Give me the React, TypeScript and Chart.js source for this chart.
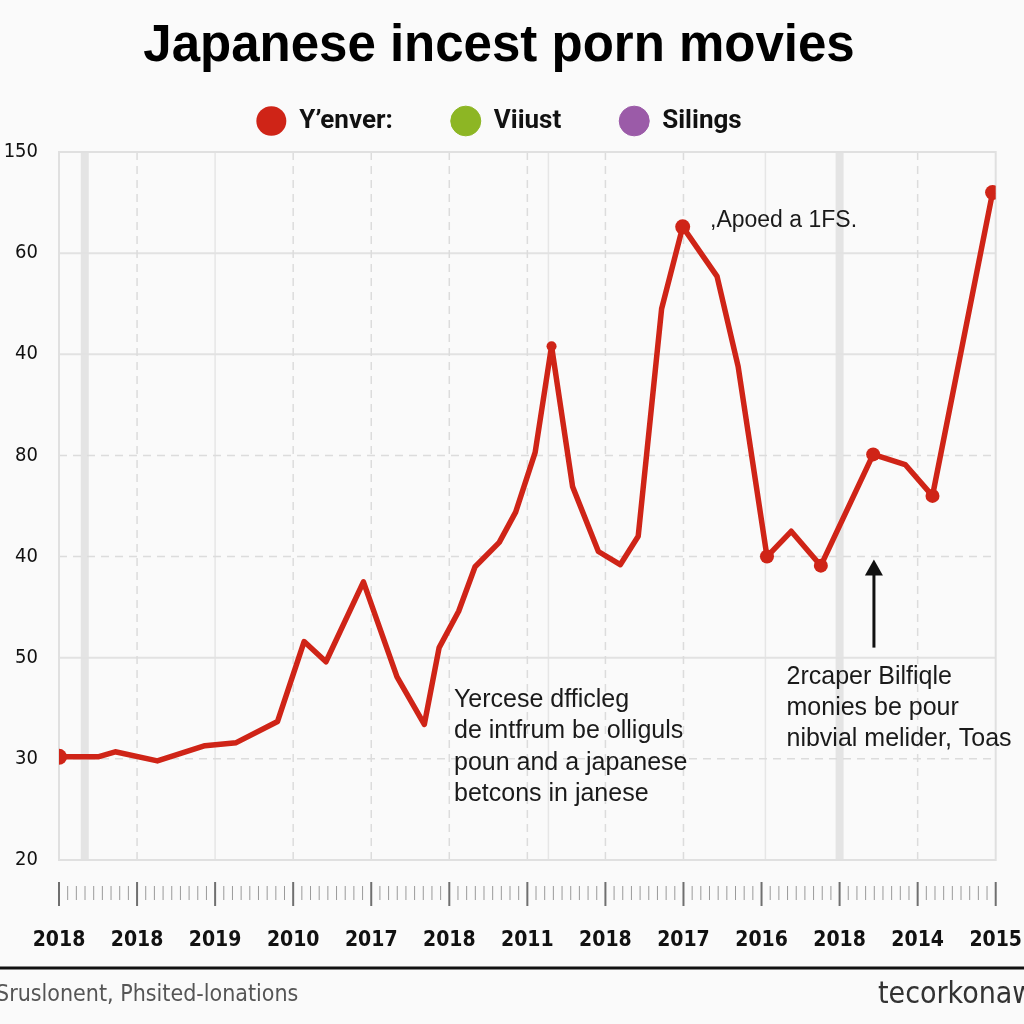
import React, { useEffect, useRef } from "react";
import { Chart, registerables, layouts } from "chart.js";

Chart.register(...registerables);

// ---------- data ----------
const chartTitle = "Japanese incest porn movies";
const seriesNames = ["Y’enver:", "Viiust", "Silings"];
const xTickLabels = ["2018", "2018", "2019", "2010", "2017", "2018", "2011", "2018", "2017", "2016", "2018", "2014", "2015"];
const yTickLabels = ["20", "30", "50", "40", "80", "40", "60", "150"];
// red series, positions in axis units (x: tick index, y: tick index)
const redX = [0, 0.5, 0.72, 1.26, 1.87, 2.27, 2.8, 3.14, 3.42, 3.9, 4.33, 4.68, 4.87, 5.12, 5.33, 5.64, 5.85, 6.1, 6.31, 6.58, 6.91, 7.19, 7.42, 7.72, 7.99, 8.43, 8.7, 9.07, 9.38, 9.76, 10.43, 10.84, 11.19, 11.96];
const redY = [1.02, 1.02, 1.07, 0.98, 1.13, 1.16, 1.37, 2.16, 1.96, 2.75, 1.81, 1.34, 2.1, 2.46, 2.9, 3.14, 3.44, 4.03, 5.08, 3.69, 3.05, 2.92, 3.2, 5.45, 6.26, 5.77, 4.88, 3.0, 3.25, 2.91, 4.01, 3.91, 3.6, 6.6];
const greenValues: number[] = [];
const purpleValues: number[] = [];
const footerLeft = "Sruslonent, Phsited-lonations";
const footerRight = "tecorkonaw";
const noteTop = ",Apoed a 1FS.";
const noteMid = ["Yercese dfficleg", "de intfrum be olliguls", "poun and a japanese", "betcons in janese"];
const noteRight = ["2rcaper Bilfiqle", "monies be pour", "nibvial melider, Toas"];

// ---------- styling / placement ----------
const COLORS = { red: "#cf2417", green: "#8db624", purple: "#9b5ba8", bg: "#fafafa" };
const markerSizes: Record<number, number> = { 0: 8, 18: 5, 24: 7.5, 27: 7, 29: 7, 30: 7, 32: 7, 33: 7.5 };
const vDashed = [1, 3, 4, 5, 6, 7, 8, 11];
const vSolid = [2, 6.27, 9.05];
const vBands = [0.33, 10.0];
const hSolid = [2, 5, 6];
const hDashed = [1, 3, 4];
const notePos = { top: [8.34, 6.32], mid: [5.06, 1.58], right: [9.32, 1.81], arrowX: 10.44, arrowFrom: 2.1, arrowTo: 2.97 };

const NARROW = "'DejaVu Sans Condensed', 'Liberation Sans', sans-serif";
const SANS = "'Liberation Sans', Arial, sans-serif";

const spacerPlugin = {
  id: "spacer",
  beforeInit(chart: any) {
    const box: any = {
      position: "top",
      weight: 0,
      fullSize: true,
      options: { stackWeight: 1 },
      left: 0, top: 0, right: 0, bottom: 0, width: 0, height: 0,
      isHorizontal() { return true; },
      update(maxWidth: number) {
        this.width = maxWidth;
        this.height = 8;
        return { width: maxWidth, height: 8 };
      },
      draw() {},
    };
    layouts.addBox(chart, box);
  },
};

const decorPlugin = {
  id: "decor",
  beforeDraw(chart: any) {
    const { ctx, width, height } = chart;
    ctx.save();
    ctx.fillStyle = COLORS.bg;
    ctx.fillRect(0, 0, width, height);
    ctx.restore();
  },
  beforeDatasetsDraw(chart: any) {
    const { ctx, chartArea: a, scales } = chart;
    const xs = scales.x, ys = scales.y;
    ctx.save();
    ctx.strokeStyle = "#e4e4e4";
    ctx.lineWidth = 8;
    vBands.forEach((v) => {
      const px = xs.getPixelForValue(v);
      ctx.beginPath(); ctx.moveTo(px, a.top); ctx.lineTo(px, a.bottom); ctx.stroke();
    });
    ctx.strokeStyle = "#e6e6e6";
    ctx.lineWidth = 1.5;
    vSolid.forEach((v) => {
      const px = xs.getPixelForValue(v);
      ctx.beginPath(); ctx.moveTo(px, a.top); ctx.lineTo(px, a.bottom); ctx.stroke();
    });
    ctx.strokeStyle = "#e2e2e2";
    ctx.lineWidth = 2;
    hSolid.forEach((v) => {
      const py = ys.getPixelForValue(v);
      ctx.beginPath(); ctx.moveTo(a.left, py); ctx.lineTo(a.right, py); ctx.stroke();
    });
    ctx.setLineDash([8, 6]);
    ctx.strokeStyle = "#dcdcdc";
    ctx.lineWidth = 1.5;
    vDashed.forEach((v) => {
      const px = xs.getPixelForValue(v);
      ctx.beginPath(); ctx.moveTo(px, a.top); ctx.lineTo(px, a.bottom); ctx.stroke();
    });
    hDashed.forEach((v) => {
      const py = ys.getPixelForValue(v);
      ctx.beginPath(); ctx.moveTo(a.left, py); ctx.lineTo(a.right, py); ctx.stroke();
    });
    ctx.setLineDash([]);
    ctx.strokeStyle = "#e0e0e0";
    ctx.lineWidth = 2;
    ctx.strokeRect(a.left, a.top, a.right - a.left, a.bottom - a.top);
    ctx.restore();
  },
  afterDraw(chart: any) {
    const { ctx, chartArea: a, scales, width } = chart;
    const xs = scales.x, ys = scales.y;
    ctx.save();
    const n = xTickLabels.length - 1;
    for (let i = 0; i <= n; i++) {
      const px = xs.getPixelForValue(i);
      ctx.strokeStyle = "#6f6f6f";
      ctx.lineWidth = 2;
      ctx.beginPath(); ctx.moveTo(px, a.bottom + 22); ctx.lineTo(px, a.bottom + 46); ctx.stroke();
      if (i < n) {
        const nx = xs.getPixelForValue(i + 1);
        ctx.strokeStyle = "#9a9a9a";
        ctx.lineWidth = 1;
        for (let k = 1; k < 9; k++) {
          const mx = px + ((nx - px) * k) / 9;
          ctx.beginPath(); ctx.moveTo(mx, a.bottom + 26); ctx.lineTo(mx, a.bottom + 40); ctx.stroke();
        }
      }
    }
    ctx.fillStyle = "#1a1a1a";
    ctx.textBaseline = "middle";
    ctx.textAlign = "left";
    ctx.font = `23px ${SANS}`;
    ctx.fillText(noteTop, xs.getPixelForValue(notePos.top[0]), ys.getPixelForValue(notePos.top[1]));
    ctx.font = `25px ${SANS}`;
    noteMid.forEach((t, i) => {
      ctx.fillText(t, xs.getPixelForValue(notePos.mid[0]), ys.getPixelForValue(notePos.mid[1]) + i * 31.3);
    });
    ctx.font = `25px ${SANS}`;
    noteRight.forEach((t, i) => {
      ctx.fillText(t, xs.getPixelForValue(notePos.right[0]), ys.getPixelForValue(notePos.right[1]) + i * 31);
    });
    const ax = xs.getPixelForValue(notePos.arrowX);
    const y0 = ys.getPixelForValue(notePos.arrowFrom);
    const y1 = ys.getPixelForValue(notePos.arrowTo);
    ctx.strokeStyle = "#111";
    ctx.fillStyle = "#111";
    ctx.lineWidth = 3;
    ctx.beginPath(); ctx.moveTo(ax, y0); ctx.lineTo(ax, y1 + 12); ctx.stroke();
    ctx.beginPath(); ctx.moveTo(ax, y1); ctx.lineTo(ax - 9, y1 + 16); ctx.lineTo(ax + 9, y1 + 16); ctx.closePath(); ctx.fill();
    ctx.strokeStyle = "#111";
    ctx.lineWidth = 3;
    ctx.beginPath(); ctx.moveTo(0, 968); ctx.lineTo(width, 968); ctx.stroke();
    ctx.fillStyle = "#555";
    ctx.font = `23px ${NARROW}`;
    ctx.textAlign = "left";
    ctx.fillText(footerLeft, -4, 995);
    ctx.fillStyle = "#333";
    ctx.font = `30px ${NARROW}`;
    ctx.fillText(footerRight, 878, 995);
    ctx.restore();
  },
};

export default function App() {
  const ref = useRef<HTMLCanvasElement | null>(null);
  useEffect(() => {
    document.body.style.margin = "0";
    const canvas = ref.current;
    if (!canvas) return;
    const chart = new Chart(canvas, {
      type: "line",
      data: {
        datasets: [
          {
            label: seriesNames[0],
            data: redX.map((x, i) => ({ x, y: redY[i] })),
            borderColor: COLORS.red,
            backgroundColor: COLORS.red,
            borderWidth: 5.5,
            tension: 0,
            borderJoinStyle: "round",
            pointRadius: redX.map((_, i) => markerSizes[i] ?? 0),
            pointBackgroundColor: COLORS.red,
            pointBorderWidth: 0,
          },
          { label: seriesNames[1], data: greenValues, borderColor: COLORS.green, backgroundColor: COLORS.green },
          { label: seriesNames[2], data: purpleValues, borderColor: COLORS.purple, backgroundColor: COLORS.purple },
        ],
      },
      options: {
        responsive: false,
        animation: false,
        layout: { padding: { left: 0, right: 26, top: 0, bottom: 0 } },
        plugins: {
          title: {
            display: true,
            text: chartTitle,
            color: "#000",
            font: { family: SANS, size: 51, weight: "bold" },
            padding: { top: 16.4, bottom: -27.6 },
          },
          legend: {
            display: true,
            labels: {
              usePointStyle: true,
              pointStyle: "circle",
              pointStyleWidth: 30,
              boxHeight: 21,
              padding: 58,
              color: "#111",
              font: { family: "Roboto, sans-serif", size: 26, weight: "bold" },
            },
          },
          tooltip: { enabled: false },
        },
        scales: {
          x: {
            type: "linear",
            min: 0,
            max: xTickLabels.length - 1,
            grid: { display: true, drawOnChartArea: false, drawTicks: true, tickLength: 66, tickColor: "rgba(0,0,0,0)" },
            border: { display: false },
            afterFit: (s: any) => { s.height = 164; },
            ticks: {
              stepSize: 1,
              autoSkip: false,
              maxRotation: 0,
              padding: 2,
              color: "#111",
              font: { family: NARROW, size: 21, weight: "bold" },
              callback: (v: any) => xTickLabels[Number(v)] ?? "",
            },
          },
          y: {
            type: "linear",
            min: 0,
            max: yTickLabels.length - 1,
            grid: { display: false, drawTicks: false },
            border: { display: false },
            afterFit: (s: any) => { s.width = 59; },
            ticks: {
              stepSize: 1,
              padding: 21,
              color: "#111",
              font: { family: NARROW, size: 20 },
              callback: (v: any) => yTickLabels[Number(v)] ?? "",
            },
          },
        },
      },
      plugins: [spacerPlugin, decorPlugin],
    } as any);
    return () => chart.destroy();
  }, []);
  return (
    <div style={{ width: 1024, height: 1024 }}>
      <canvas ref={ref} width={1024} height={1024} style={{ display: "block" }} />
    </div>
  );
}
